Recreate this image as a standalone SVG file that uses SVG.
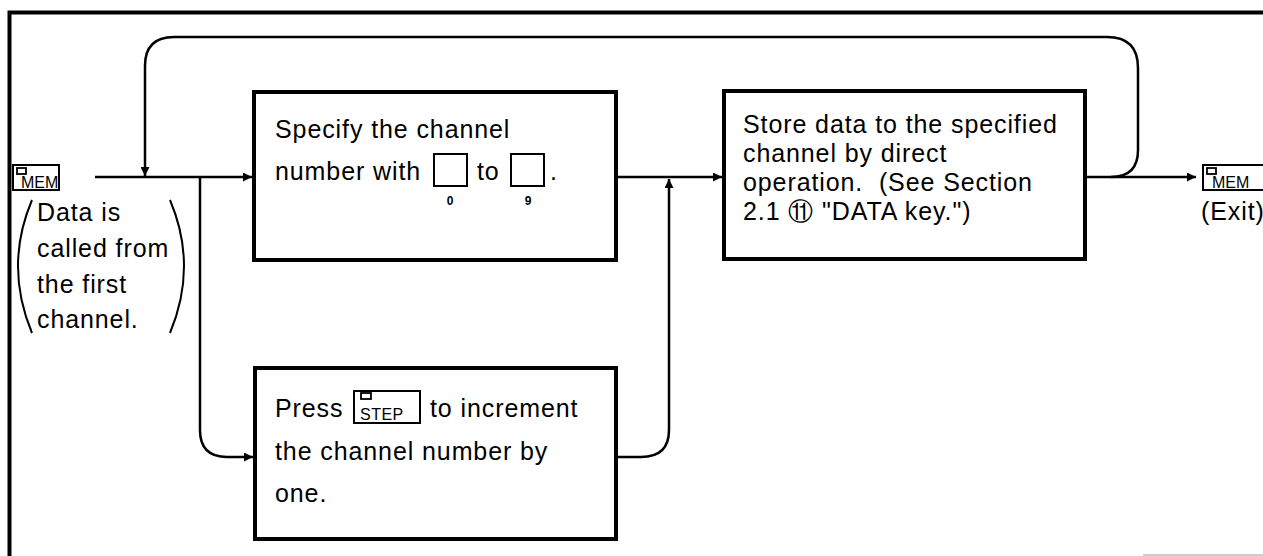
<svg xmlns="http://www.w3.org/2000/svg" width="1263" height="556" viewBox="0 0 1263 556">
<defs>
<style>
.t{font-family:"Liberation Sans",Arial,sans-serif;font-size:25px;letter-spacing:0.9px;fill:#000;white-space:pre}
.box{fill:#fff;stroke:#000;stroke-width:4}
.key{fill:#fff;stroke:#000;stroke-width:2}
.k{font-family:"Liberation Sans",Arial,sans-serif;font-size:16px;fill:#000}
.d{font-family:"Liberation Sans",Arial,sans-serif;font-size:12px;font-weight:bold;fill:#000}
.ln{fill:none;stroke:#000;stroke-width:2.5}
</style>
<marker id="ah" viewBox="0 0 10 10" refX="10" refY="5" markerWidth="11" markerHeight="9" markerUnits="userSpaceOnUse" orient="auto">
<path d="M0,0 L10,5 L0,10 z" fill="#000"/>
</marker>
</defs>
<rect width="1263" height="556" fill="#fff"/>
<g id="frame">
<path d="M9.5,556 L9.5,12.5 L1263,12.5" fill="none" stroke="#000" stroke-width="4"/>
<line x1="1143" y1="555" x2="1263" y2="555" stroke="#bbb" stroke-width="1.5"/>
</g>
<g id="connectors">
<line class="ln" x1="95" y1="177" x2="252" y2="177" marker-end="url(#ah)"/>
<path class="ln" d="M1111,177 Q1138,177 1138,150 L1138,68 Q1138,37 1107,37 L174,37 Q145,37 145,66 L145,176" marker-end="url(#ah)"/>
<path class="ln" d="M200,177 L200,430 Q200,457 227,457 L253,457" marker-end="url(#ah)"/>
<path class="ln" d="M618,457 L641,457 Q669,457 669,430 L669,179" marker-end="url(#ah)"/>
<line class="ln" x1="618" y1="177" x2="722" y2="177" marker-end="url(#ah)"/>
<line class="ln" x1="1087" y1="177" x2="1196" y2="177" marker-end="url(#ah)"/>
</g>
<g id="start">
<rect class="key" x="13" y="165" width="46" height="25"/>
<rect x="17" y="168" width="9" height="6" fill="#fff" stroke="#000" stroke-width="1.8"/>
<text class="k" x="21" y="188">MEM</text>
<path d="M32,200 Q4,266 32,333" fill="none" stroke="#000" stroke-width="2"/>
<path d="M170,200 Q198,266 170,333" fill="none" stroke="#000" stroke-width="2"/>
<text class="t" x="37" y="221">Data is</text>
<text class="t" x="37" y="257">called from</text>
<text class="t" x="37" y="293">the first</text>
<text class="t" x="37" y="328">channel.</text>
</g>
<g id="box1">
<rect class="box" x="254" y="92" width="362" height="168"/>
<text class="t" x="275" y="138">Specify the channel</text>
<text class="t" x="275" y="180">number with</text>
<rect class="key" x="434" y="154" width="33" height="32"/>
<text class="d" x="450" y="205" text-anchor="middle">0</text>
<text class="t" x="477" y="180">to</text>
<rect class="key" x="511" y="154" width="33" height="32"/>
<text class="d" x="528" y="205" text-anchor="middle">9</text>
<text class="t" x="550" y="180">.</text>
</g>
<g id="box2">
<rect class="box" x="255" y="368" width="361" height="171"/>
<text class="t" x="275" y="417">Press</text>
<rect class="key" x="354" y="391" width="66" height="32"/>
<rect x="361" y="393" width="10" height="6" fill="#fff" stroke="#000" stroke-width="1.8"/>
<text class="k" x="360" y="420" letter-spacing="0.5">STEP</text>
<text class="t" x="430" y="417">to increment</text>
<text class="t" x="275" y="460">the channel number by</text>
<text class="t" x="275" y="502">one.</text>
</g>
<g id="box3">
<rect class="box" x="724" y="91" width="361" height="168"/>
<text class="t" x="743" y="133">Store data to the specified</text>
<text class="t" x="743" y="162">channel by direct</text>
<text class="t" x="743" y="191">operation.  (See Section</text>
<text class="t" x="743" y="220">2.1 ⑪ "DATA key.")</text>
</g>
<g id="end">
<rect class="key" x="1203" y="165" width="62" height="25"/>
<rect x="1207" y="168" width="9" height="6" fill="#fff" stroke="#000" stroke-width="1.8"/>
<text class="k" x="1212" y="188">MEM</text>
<text class="t" x="1201" y="220">(Exit)</text>
</g>
</svg>
